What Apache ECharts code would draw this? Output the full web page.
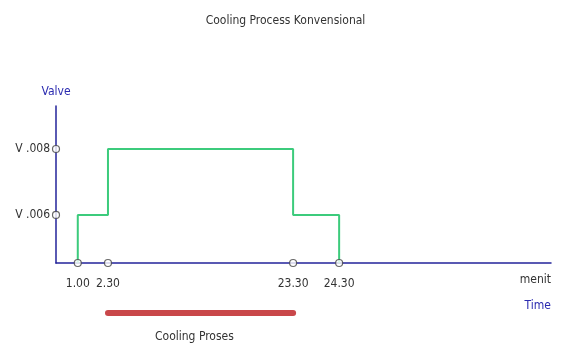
<!DOCTYPE html>
<html>
<head>
<meta charset="utf-8">
<script src="https://cdn.jsdelivr.net/npm/echarts@6/dist/echarts.min.js"></script>
<style>
  html, body { margin: 0; padding: 0; background: #fff; }
  #chart { width: 571px; height: 347px; }
</style>
</head>
<body>
<div id="chart"></div>
<script>
// schematic positions along the axes (the original drawing is not to scale)
const timeLabels = ["1.00", "2.30", "23.30", "24.30"]
const timePos = [4.4, 10.5, 47.9, 57.2]
const valveLabels = ["V .006", "V .008"]
const valvePos = [30.6, 72.6]
// valve level index per step: open to .006 at 1.00, .008 at 2.30, back to .006 at 23.30, closed at 24.30
const stepLevels = [1, 2, 1, 0]
const coolingRange = ["2.30", "23.30"]

const font = "'DejaVu Sans Condensed', 'Liberation Sans Narrow', sans-serif"
const axisColor = "#23239a"
const nameColor = "#2b2bb0"
const lineColor = "#3ccb7c"

const levelValue = (i) => (i === 0 ? 0 : valvePos[i - 1])

// build the step line
const stepData = []
let prev = 0
timePos.forEach((x, i) => {
  stepData.push([x, levelValue(prev)])
  stepData.push([x, levelValue(stepLevels[i])])
  prev = stepLevels[i]
})

const xMarks = timePos.map((x) => [x, 0])
const yMarks = valvePos.map((y) => [0, y])
const barData = coolingRange.map((t) => [timePos[timeLabels.indexOf(t)], 0.5])

const chart = echarts.init(document.getElementById("chart"), null, { renderer: "canvas" })

const markerStyle = { color: "#fff", borderColor: "#444", borderWidth: 1.2 }

chart.setOption({
  animation: false,
  textStyle: { fontFamily: font },
  title: {
    text: "Cooling Process Konvensional",
    left: "center",
    top: 10,
    textStyle: { fontFamily: font, fontSize: 12, fontWeight: "normal", color: "#333" },
  },
  grid: [
    { left: 56, right: 20, top: 106, bottom: 84 },
    { left: 56, right: 20, top: 303, height: 20 },
  ],
  xAxis: [
    {
      type: "value",
      min: 0,
      max: 100,
      splitLine: { show: false },
      axisLine: { lineStyle: { color: axisColor, width: 1.5 } },
      axisTick: { show: false },
      axisLabel: {
        customValues: timePos,
        formatter: (v) => timeLabels[timePos.indexOf(v)] || "",
        color: "#333",
        fontSize: 12,
        margin: 15,
        fontFamily: font,
      },
    },
    { gridIndex: 1, type: "value", min: 0, max: 100, show: false },
  ],
  yAxis: [
    {
      type: "value",
      min: 0,
      max: 100,
      name: "Valve",
      nameGap: 8,
      nameTextStyle: { color: nameColor, fontSize: 12, fontFamily: font, align: "center" },
      splitLine: { show: false },
      axisLine: { lineStyle: { color: axisColor, width: 1.5 } },
      axisTick: { show: false },
      axisLabel: {
        customValues: valvePos,
        formatter: (v) => valveLabels[valvePos.indexOf(v)] || "",
        color: "#333",
        fontSize: 12,
        margin: 6,
        fontFamily: font,
      },
    },
    { gridIndex: 1, type: "value", min: 0, max: 1, show: false },
  ],
  series: [
    {
      type: "line",
      data: stepData,
      showSymbol: false,
      lineStyle: { color: lineColor, width: 2 },
      z: 2,
    },
    {
      type: "scatter",
      data: xMarks,
      symbolSize: 7,
      itemStyle: markerStyle,
      clip: false,
      z: 5,
    },
    {
      type: "scatter",
      data: yMarks,
      symbolSize: 7,
      itemStyle: markerStyle,
      clip: false,
      z: 5,
    },
    {
      type: "line",
      xAxisIndex: 1,
      yAxisIndex: 1,
      data: barData,
      showSymbol: false,
      lineStyle: { color: "#c9474a", width: 6, cap: "round" },
    },
  ],
  graphic: [
    {
      type: "text",
      right: 20,
      top: 274,
      style: { text: "menit", fill: "#333", font: "12px " + font },
    },
    {
      type: "text",
      right: 20,
      top: 300,
      style: { text: "Time", fill: nameColor, font: "12px " + font },
    },
    {
      type: "text",
      left: 155,
      top: 331,
      style: { text: "Cooling Proses", fill: "#333", font: "12px " + font },
    },
  ],
})
</script>
</body>
</html>
